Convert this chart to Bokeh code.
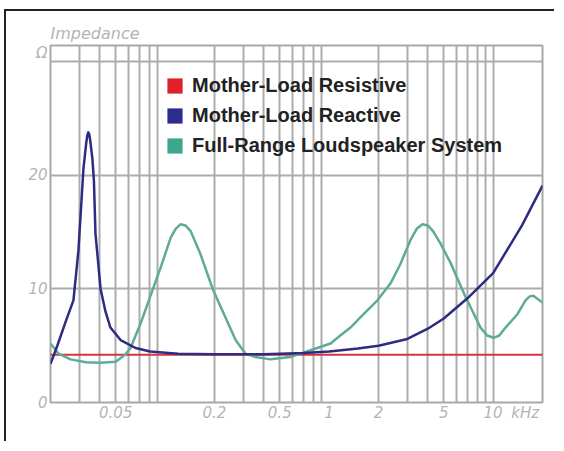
from bokeh.plotting import figure
from bokeh.models import FixedTicker, Legend, LegendItem, ColumnDataSource
from bokeh.embed import file_html
from bokeh.resources import INLINE

# ---- data (frequency in kHz, impedance in ohms) ----
res_freq = [0.02, 0.05, 0.2, 1.0, 5.0, 20.0]
res_ohm = [4.2, 4.2, 4.2, 4.2, 4.2, 4.2]

rea_freq = [0.020, 0.022, 0.025, 0.0276, 0.0296, 0.0318, 0.033, 0.0335, 0.034, 0.0345, 0.035,
            0.036, 0.0368, 0.0376, 0.0404, 0.0433, 0.0464, 0.0535, 0.066, 0.081, 0.12, 0.2,
            0.4, 0.7, 1.0, 1.5, 2.0, 3.0, 4.0, 5.0, 7.0, 10.0, 15.0, 20.0]
rea_ohm = [3.4, 5.0, 7.3, 9.0, 13.4, 20.7, 22.8, 23.5, 23.8, 23.6, 23.0,
           21.5, 19.5, 14.9, 10.0, 8.0, 6.6, 5.5, 4.8, 4.5, 4.3, 4.25,
           4.25, 4.35, 4.5, 4.75, 5.0, 5.6, 6.5, 7.4, 9.2, 11.4, 15.6, 19.1]

spk_freq = [0.020, 0.0224, 0.0265, 0.033, 0.040, 0.050, 0.057, 0.0615, 0.071, 0.081, 0.094,
            0.108, 0.116, 0.124, 0.133, 0.143, 0.164, 0.195, 0.233, 0.269, 0.309, 0.356,
            0.44, 0.58, 0.77, 1.02, 1.17, 1.35, 1.55, 1.97, 2.37, 2.72, 3.13, 3.42, 3.71,
            4.0, 4.3, 4.78, 5.50, 6.79, 8.38, 9.2, 10.06, 10.9, 11.9, 14.1, 15.75, 16.7,
            17.6, 20.0]
spk_ohm = [5.2, 4.3, 3.8, 3.55, 3.5, 3.6, 4.2, 4.8, 7.0, 9.3, 11.9,
           14.5, 15.3, 15.7, 15.6, 15.1, 13.1, 10.0, 7.5, 5.5, 4.3, 4.0,
           3.8, 4.0, 4.6, 5.2, 5.9, 6.6, 7.5, 9.0, 10.5, 12.2, 14.3, 15.3, 15.7,
           15.6, 15.1, 14.0, 12.3, 9.3, 6.6, 5.9, 5.7, 5.9, 6.6, 7.8, 9.0, 9.35,
           9.4, 8.8]

series_names = ["Mother-Load Resistive", "Mother-Load Reactive", "Full-Range Loudspeaker System"]
legend_colors = ["#e2202c", "#2c2e8e", "#3fa68e"]
line_colors = ["#d3343f", "#2e2c80", "#5dab98"]

x_labels = {0.05: "0.05", 0.2: "0.2", 0.5: "0.5", 1: "1", 2: "2", 5: "5", 10: "10", 15.7: "kHz"}
y_labels = {0: "0", 10: "10", 20: "20", 30.8: "Ω"}
grid_x = [m * d for d in (0.01, 0.1, 1.0) for m in range(2, 10)] + [10.0]
grid_x = [g for g in grid_x if g > 0.025]
grid_y = [10, 20, 30]

p = figure(width=550, height=432, x_axis_type="log", x_range=(0.02, 20), y_range=(0, 31.45),
           output_backend="svg", toolbar_location=None,
           min_border_left=44, min_border_right=14, min_border_top=34, min_border_bottom=41)
p.styles = {"margin-left": "6px", "margin-top": "11px", "box-shadow": "-2px -2px 0 0 #222"}

p.title.text = "Impedance"
p.title.text_font = "DejaVu Sans"
p.title.text_font_style = "italic"
p.title.text_font_size = "16px"
p.title.text_color = "#b4b4b4"
p.title.offset = 0
p.title.standoff = 5

p.outline_line_color = "#a8a8a8"
p.outline_line_width = 2

p.xgrid.ticker = FixedTicker(ticks=grid_x)
p.ygrid.ticker = FixedTicker(ticks=grid_y)
for g in (p.xgrid, p.ygrid):
    g.grid_line_color = "#acacac"
    g.grid_line_width = 2
    g.grid_line_alpha = 1.0

p.xaxis.ticker = FixedTicker(ticks=list(x_labels.keys()))
p.xaxis.major_label_overrides = {k: v for k, v in x_labels.items()}
p.yaxis.ticker = FixedTicker(ticks=list(y_labels.keys()))
p.yaxis.major_label_overrides = {k: v for k, v in y_labels.items()}
for ax in (p.xaxis, p.yaxis):
    ax.axis_line_color = None
    ax.major_tick_line_color = None
    ax.minor_tick_line_color = None
    ax.major_label_text_font = "DejaVu Sans"
    ax.major_label_text_font_style = "italic"
    ax.major_label_text_font_size = "15px"
    ax.major_label_text_color = "#b4b4b4"
    ax.major_tick_out = 0
    ax.major_tick_in = 0
p.xaxis.major_label_standoff = 1
p.yaxis.major_label_standoff = 3

p.line(res_freq, res_ohm, line_color=line_colors[0], line_width=2)
p.line(spk_freq, spk_ohm, line_color=line_colors[2], line_width=2.5, line_join="round")
p.line(rea_freq, rea_ohm, line_color=line_colors[1], line_width=2.5, line_join="round")

nan = float("nan")
items = []
for name, col in zip(series_names, legend_colors):
    src = ColumnDataSource(dict(left=[nan], right=[nan], top=[nan], bottom=[nan]))
    r = p.quad(left="left", right="right", top="top", bottom="bottom", source=src,
               fill_color=col, line_color=None)
    items.append(LegendItem(label=name, renderers=[r]))

legend = Legend(items=items, location=(115, 245), glyph_width=19, glyph_height=19,
                label_height=19, spacing=7, padding=0, margin=0, label_standoff=8,
                label_text_font="Liberation Sans", label_text_font_style="bold",
                label_text_font_size="20px", label_text_color="#222222",
                background_fill_alpha=0, border_line_color=None)
p.add_layout(legend)

open("out.html", "w").write(file_html(p, INLINE))
